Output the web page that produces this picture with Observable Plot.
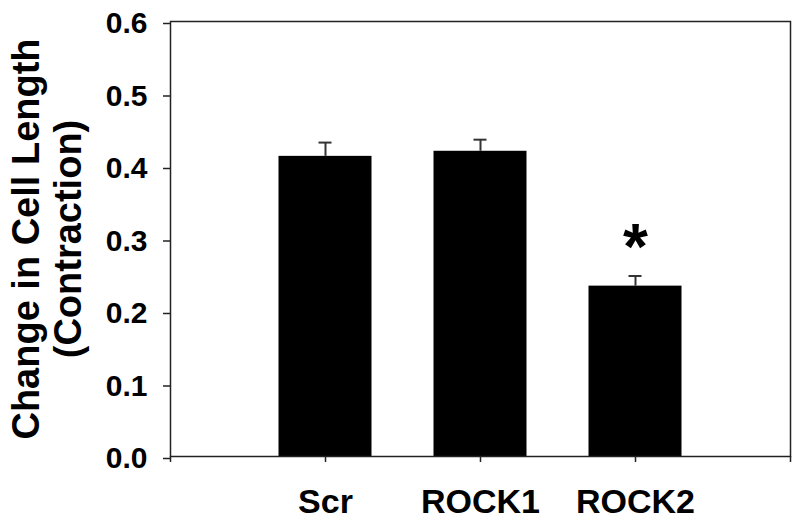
<!DOCTYPE html>
<html><head><meta charset="utf-8">
<script src="https://cdn.jsdelivr.net/npm/d3@7"></script>
<script src="https://cdn.jsdelivr.net/npm/@observablehq/plot@0.6"></script>
<style>body{margin:0;background:#fff}</style>
</head><body><div id="chart"></div>
<script>
const categories = ["Scr", "ROCK1", "ROCK2"];
const values = [0.414, 0.421, 0.235];
const errors = [0.019, 0.016, 0.014];
const significant = ["", "", "*"];
const yTicks = [0, 0.1, 0.2, 0.3, 0.4, 0.5, 0.6];
const yTitle = "Change in Cell Length\n(Contraction)";

const data = categories.map((c, i) => ({
  cat: c, pos: i + 1, value: values[i], err: errors[i], mark: significant[i]
}));
const xTicks = [0, ...categories.map((c, i) => i + 1), categories.length + 1];

const font = "'Liberation Sans', Arial, sans-serif";
const ML = 170;

const chart = Plot.plot({
  width: 800,
  height: 522,
  marginLeft: ML,
  marginRight: 10,
  marginTop: 21,
  marginBottom: 66,
  style: {fontFamily: font, fontWeight: "bold", color: "#000", background: "#fff"},
  x: {domain: [0, categories.length + 1], axis: null},
  y: {domain: [0, 0.6], axis: null},
  marks: [
    Plot.rect(data, {x1: d => d.pos - 0.3, x2: d => d.pos + 0.3, y1: 0, y2: "value", fill: "#000"}),
    Plot.ruleX(data, {x: "pos", y1: "value", y2: d => d.value + d.err, stroke: "#333", strokeWidth: 2}),
    Plot.ruleY(data, {y: d => d.value + d.err, x1: d => d.pos - 0.042, x2: d => d.pos + 0.042, stroke: "#333", strokeWidth: 2}),
    Plot.text(data.filter(d => d.mark), {x: "pos", y: d => d.value + d.err, text: "mark", fontSize: 64, fontWeight: "bold", lineAnchor: "bottom", dy: -7, fill: "#000"}),
    Plot.frame({stroke: "#222", strokeWidth: 1.5}),
    Plot.axisY({ticks: yTicks, tickFormat: d3.format(".1f"), tickSize: 7, tickPadding: 16, fontSize: 30, stroke: "#222", strokeWidth: 1.5, dy: 2, label: null}),
    Plot.axisX({ticks: xTicks, tickFormat: d => categories[d - 1] || "", tickSize: 6, tickPadding: 26, fontSize: 34, stroke: "#222", strokeWidth: 1.5, label: null}),
    Plot.text([yTitle], {frameAnchor: "left", rotate: -90, dx: 8 - ML, lineAnchor: "top", textAnchor: "middle", fontSize: 38, lineHeight: 1.12, fontWeight: "bold", fill: "#000"})
  ]
});
document.getElementById("chart").appendChild(chart);
</script>
</body></html>
